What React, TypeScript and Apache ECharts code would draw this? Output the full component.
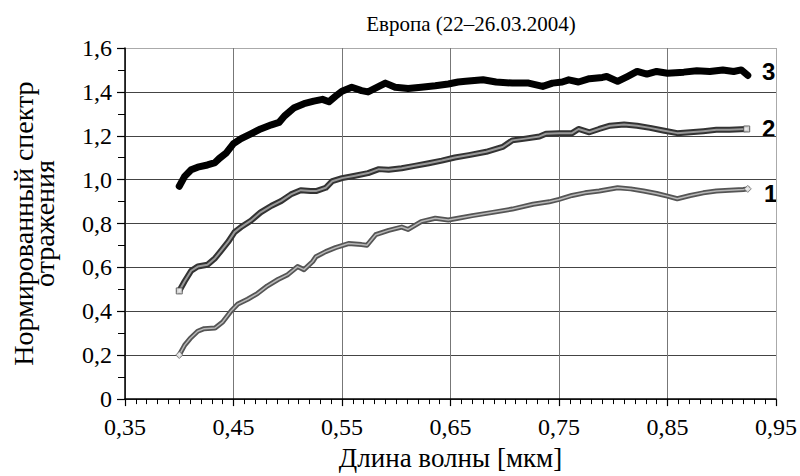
import React, { useEffect, useRef } from "react";
import * as echarts from "echarts";

const TITLE = "Европа (22–26.03.2004)";
const X_NAME = "Длина волны [мкм]";
const Y_NAME = "Нормированный спектр\nотражения";
const X_MIN = 0.35;
const X_TICKS = ["0,35", "0,45", "0,55", "0,65", "0,75", "0,85", "0,95"];

// Series 3 (black)
const x3 = [0.400, 0.405, 0.411, 0.417, 0.426, 0.433, 0.437, 0.443, 0.450, 0.457, 0.466, 0.475, 0.485, 0.492, 0.497, 0.506, 0.515, 0.524, 0.532, 0.538, 0.544, 0.550, 0.559, 0.568, 0.574, 0.584, 0.590, 0.599, 0.611, 0.623, 0.636, 0.648, 0.657, 0.664, 0.680, 0.692, 0.707, 0.722, 0.735, 0.744, 0.753, 0.759, 0.768, 0.778, 0.790, 0.794, 0.804, 0.813, 0.822, 0.831, 0.840, 0.850, 0.865, 0.877, 0.889, 0.901, 0.911, 0.918, 0.924];
const y3 = [0.970, 1.015, 1.045, 1.057, 1.067, 1.078, 1.097, 1.120, 1.164, 1.187, 1.209, 1.231, 1.250, 1.261, 1.290, 1.328, 1.346, 1.358, 1.366, 1.355, 1.380, 1.403, 1.421, 1.406, 1.400, 1.425, 1.440, 1.421, 1.415, 1.421, 1.428, 1.436, 1.445, 1.448, 1.455, 1.445, 1.440, 1.440, 1.425, 1.440, 1.445, 1.455, 1.445, 1.460, 1.466, 1.470, 1.448, 1.470, 1.493, 1.481, 1.493, 1.485, 1.490, 1.496, 1.493, 1.500, 1.493, 1.500, 1.475];

// Series 2 (squares)
const x2 = [0.400, 0.405, 0.411, 0.417, 0.426, 0.433, 0.439, 0.445, 0.451, 0.457, 0.466, 0.475, 0.485, 0.494, 0.503, 0.512, 0.521, 0.526, 0.535, 0.541, 0.550, 0.562, 0.574, 0.584, 0.593, 0.605, 0.617, 0.630, 0.642, 0.654, 0.667, 0.683, 0.698, 0.707, 0.719, 0.732, 0.738, 0.750, 0.762, 0.768, 0.778, 0.787, 0.797, 0.810, 0.822, 0.834, 0.846, 0.859, 0.871, 0.883, 0.895, 0.907, 0.923];
const y2 = [0.493, 0.537, 0.585, 0.604, 0.612, 0.642, 0.679, 0.716, 0.761, 0.784, 0.813, 0.851, 0.881, 0.903, 0.933, 0.952, 0.948, 0.948, 0.963, 0.993, 1.007, 1.018, 1.030, 1.048, 1.045, 1.052, 1.063, 1.075, 1.087, 1.101, 1.112, 1.127, 1.149, 1.179, 1.187, 1.197, 1.209, 1.212, 1.212, 1.231, 1.216, 1.231, 1.246, 1.251, 1.246, 1.236, 1.224, 1.212, 1.216, 1.221, 1.227, 1.227, 1.231];

// Series 1 (diamonds)
const x1 = [0.400, 0.405, 0.410, 0.417, 0.423, 0.433, 0.440, 0.448, 0.454, 0.463, 0.472, 0.481, 0.491, 0.500, 0.509, 0.515, 0.523, 0.526, 0.535, 0.544, 0.556, 0.568, 0.573, 0.581, 0.593, 0.605, 0.611, 0.623, 0.636, 0.648, 0.657, 0.670, 0.689, 0.707, 0.726, 0.741, 0.750, 0.762, 0.774, 0.787, 0.804, 0.816, 0.828, 0.840, 0.850, 0.859, 0.871, 0.883, 0.895, 0.907, 0.920, 0.924];
const y1 = [0.201, 0.246, 0.276, 0.309, 0.321, 0.324, 0.351, 0.403, 0.433, 0.455, 0.481, 0.515, 0.545, 0.567, 0.604, 0.590, 0.627, 0.649, 0.672, 0.690, 0.709, 0.704, 0.701, 0.749, 0.769, 0.784, 0.773, 0.809, 0.824, 0.816, 0.824, 0.836, 0.851, 0.866, 0.888, 0.899, 0.910, 0.928, 0.940, 0.948, 0.963, 0.958, 0.948, 0.937, 0.925, 0.913, 0.928, 0.940, 0.948, 0.952, 0.955, 0.958];

const SERIES_LABELS = ["1", "2", "3"];

const pts = (xs: number[], ys: number[]) => xs.map((x, i) => [+(x - X_MIN).toFixed(4), ys[i]]);
const ends = (xs: number[], ys: number[]) => [pts(xs, ys)[0], pts(xs, ys)[xs.length - 1]];

export default function App() {
  const ref = useRef<HTMLDivElement>(null);
  useEffect(() => {
    document.body.style.margin = "0";
    if (!ref.current) return;
    const chart = echarts.init(ref.current, null, { renderer: "svg" });
    const serif = "Liberation Serif";
    const sans = "Liberation Sans";
    const lineSeries = (data: number[][], color: string, width: number, z: number) => ({
      type: "line",
      data,
      showSymbol: false,
      symbol: "none",
      lineStyle: { color, width, join: "round", cap: "round" },
      z,
      silent: true,
    });
    chart.setOption({
      animation: false,
      backgroundColor: "#fff",
      textStyle: { fontFamily: serif },
      title: {
        text: TITLE,
        left: 466,
        textAlign: "center",
        top: 8,
        textStyle: { fontFamily: serif, fontSize: 21, fontWeight: "normal", color: "#000" },
      },
      grid: { left: 125, right: 20, top: 48, bottom: 70 },
      xAxis: {
        type: "value",
        min: 0,
        max: 0.6,
        interval: 0.1,
        name: X_NAME,
        nameLocation: "middle",
        nameGap: 44,
        nameTextStyle: { fontFamily: serif, fontSize: 27, color: "#000" },
        axisLine: { show: true, lineStyle: { color: "#000", width: 1.5 } },
        axisTick: { show: true, inside: false, length: 7, lineStyle: { color: "#000", width: 1.2 } },
        minorTick: { show: true, splitNumber: 10, length: 5, lineStyle: { color: "#000", width: 1 } },
        axisLabel: {
          fontFamily: serif,
          fontSize: 24,
          color: "#000",
          margin: 16,
          formatter: (v: number) => X_TICKS[Math.round(v * 10)] ?? "",
        },
        splitLine: {
          show: true,
          lineStyle: { color: ["#777", "#777", "#777", "#777", "#777", "#777", "#aaa"], width: 1 },
        },
      },
      yAxis: {
        type: "value",
        min: 0,
        max: 1.6,
        interval: 0.2,
        name: Y_NAME,
        nameLocation: "middle",
        nameRotate: 90,
        nameGap: 70,
        nameTextStyle: { fontFamily: serif, fontSize: 28, color: "#000", lineHeight: 21 },
        axisLine: { show: true, lineStyle: { color: "#000", width: 1.5 } },
        axisTick: { show: true, inside: false, length: 8, lineStyle: { color: "#000", width: 1.2 } },
        minorTick: { show: true, splitNumber: 2, length: 7, lineStyle: { color: "#000", width: 1 } },
        axisLabel: {
          fontFamily: serif,
          fontSize: 24,
          color: "#000",
          margin: 13,
          formatter: (v: number) => (v === 0 ? "0" : v.toFixed(1).replace(".", ",")),
        },
        splitLine: {
          show: true,
          lineStyle: {
            color: ["#444", "#444", "#444", "#444", "#444", "#444", "#444", "#444", "#aaa"],
            width: 1,
          },
        },
      },
      series: [
        lineSeries(pts(x1, y1), "#555", 5, 2),
        lineSeries(pts(x1, y1), "#b8b8b8", 1.5, 3),
        lineSeries(pts(x2, y2), "#333", 6, 2),
        lineSeries(pts(x2, y2), "#999", 2, 3),
        lineSeries(pts(x3, y3), "#000", 7, 2),
        {
          type: "scatter",
          data: ends(x1, y1),
          symbol: "diamond",
          symbolSize: 7,
          itemStyle: { color: "#fff", borderColor: "#666", borderWidth: 1 },
          z: 4,
          silent: true,
        },
        {
          type: "scatter",
          data: ends(x2, y2),
          symbol: "rect",
          symbolSize: 6,
          itemStyle: { color: "#fff", borderColor: "#444", borderWidth: 1 },
          z: 4,
          silent: true,
        },
      ],
      graphic: [
        { type: "text", left: 762, top: 59, style: { text: SERIES_LABELS[2], fontFamily: sans, fontWeight: "bold", fontSize: 24, fill: "#000" } },
        { type: "text", left: 762, top: 116, style: { text: SERIES_LABELS[1], fontFamily: sans, fontWeight: "bold", fontSize: 24, fill: "#000" } },
        { type: "text", left: 764, top: 181, style: { text: SERIES_LABELS[0], fontFamily: sans, fontWeight: "bold", fontSize: 24, fill: "#000" } },
      ],
    });
    return () => chart.dispose();
  }, []);
  return <div ref={ref} style={{ width: 800, height: 476 }} />;
}
